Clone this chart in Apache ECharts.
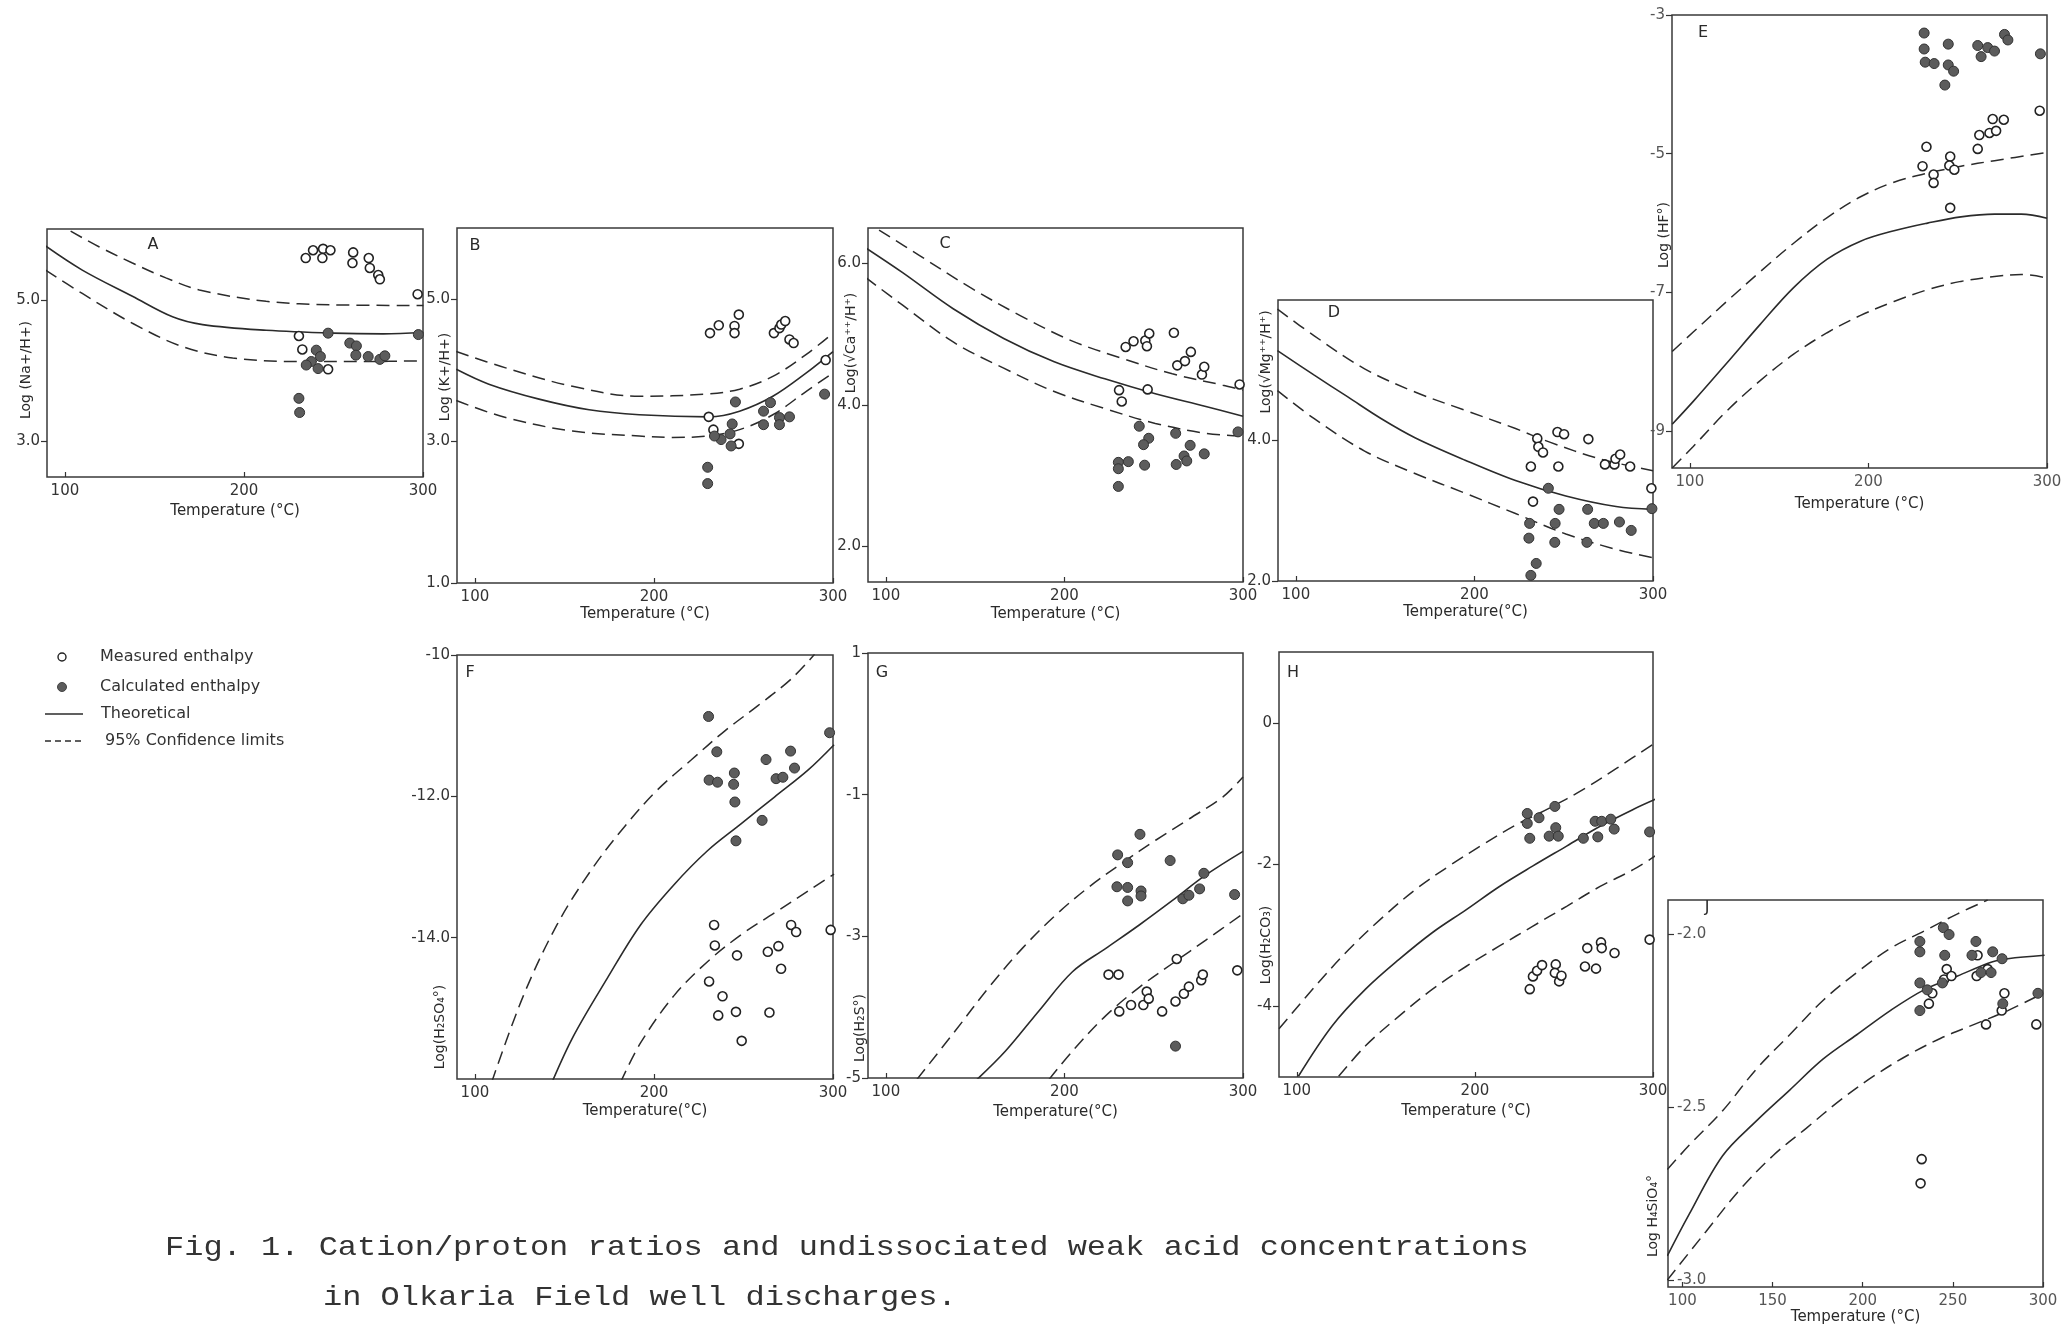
<!DOCTYPE html>
<html><head><meta charset="utf-8">
<script src="https://cdn.jsdelivr.net/npm/echarts@6/dist/echarts.min.js"></script>
<style>html,body{margin:0;padding:0;background:#fff}#c{width:2067px;height:1326px}</style>
</head><body><div id="c"></div>
<script>
// ---------- tick labels ----------
const tempTicks = [100, 200, 300];
const tempTicksJ = [100, 150, 200, 250, 300];
const A_yTicks = [3, 5];
const B_yTicks = [1, 3, 5];
const C_yTicks = [2, 4, 6];
const D_yTicks = [2, 4];
const E_yTicks = [-9, -7, -5, -3];
const F_yTicks = [-14, -12, -10];
const G_yTicks = [-5, -3, -1, 1];
const H_yTicks = [-4, -2, 0];
const J_yTicks = [-3, -2.5, -2];
const legendLabels = ['Measured enthalpy', 'Calculated enthalpy', 'Theoretical', '95% Confidence limits'];

// ---------- Panel A : Log(Na+/H+) ----------
const A_theoretical = [[89.2,5.76],[109.7,5.42],[137.7,5.05],[160.1,4.76],[176.9,4.65],[212.4,4.57],[249.8,4.53],[277.8,4.52],[300.2,4.54]];
const A_upper = [[103.2,5.97],[119,5.75],[137.7,5.52],[156.4,5.31],[175.1,5.14],[212.4,4.98],[249.8,4.93],[300.2,4.92]];
const A_lower = [[89.2,5.42],[109.7,5.09],[137.7,4.67],[165.7,4.34],[193.7,4.18],[231.1,4.13],[268.4,4.13],[300.2,4.14]];
const A_measured = [[234.5,5.59],[238.6,5.70],[244.2,5.72],[248.3,5.70],[243.8,5.59],[261.0,5.67],[260.6,5.52],[269.7,5.59],[270.3,5.45],[275.0,5.35],[275.9,5.29],[297.0,5.08],[230.7,4.49],[232.6,4.30],[247.0,4.02]];
const A_calculated = [[247.0,4.53],[259.1,4.39],[262.8,4.35],[262.5,4.22],[269.4,4.20],[275.9,4.16],[278.7,4.21],[240.4,4.29],[242.7,4.20],[237.6,4.13],[234.8,4.08],[241.4,4.03],[230.7,3.61],[231.1,3.41],[297.4,4.51]];

// ---------- Panel B : Log(K+/H+) ----------
const B_theoretical = [[89.6,4.01],[107.8,3.80],[135.8,3.59],[163.8,3.44],[191.8,3.37],[231.0,3.34],[247.8,3.42],[266.4,3.63],[285.1,3.96],[300,4.26]];
const B_upper = [[89.6,4.26],[117.2,4.03],[154.5,3.77],[191.8,3.63],[229.1,3.66],[247.8,3.73],[266.4,3.91],[285.1,4.22],[300,4.52]];
const B_lower = [[89.6,3.57],[117.2,3.33],[154.5,3.14],[191.8,3.07],[210.4,3.05],[229.1,3.07],[247.8,3.16],[266.4,3.37],[285.1,3.70],[300,3.96]];
const B_measured = [[231.3,4.52],[236.2,4.63],[245.0,4.62],[245.0,4.52],[247.4,4.78],[267.0,4.52],[270.1,4.59],[271.1,4.64],[273.3,4.69],[275.7,4.43],[278.0,4.38],[230.6,3.34],[233.2,3.16],[247.4,2.96],[295.9,4.14]];
const B_calculated = [[245.5,3.55],[243.7,3.24],[242.5,3.10],[243.1,2.93],[237.5,3.02],[233.8,3.07],[230.0,2.63],[230.0,2.40],[261.2,3.42],[265.1,3.54],[261.2,3.23],[270.1,3.33],[270.1,3.23],[275.7,3.34],[295.3,3.66]];

// ---------- Panel C : Log(sqrt(Ca++)/H+) ----------
const C_theoretical = [[88.7,6.22],[109.4,5.87],[137.7,5.36],[166.0,4.94],[194.3,4.61],[222.6,4.37],[250.9,4.16],[279.2,3.98],[300,3.84]];
const C_upper = [[96.2,6.47],[118.9,6.11],[147.2,5.66],[175.5,5.26],[203.8,4.91],[232.1,4.66],[260.4,4.44],[288.7,4.28],[300,4.21]];
const C_lower = [[88.7,5.80],[109.4,5.41],[137.7,4.89],[166.0,4.52],[194.3,4.19],[222.6,3.95],[250.9,3.74],[279.2,3.60],[300,3.56]];
const C_measured = [[234.3,4.82],[238.7,4.90],[245.3,4.91],[247.5,5.01],[246.2,4.83],[261.3,5.02],[263.2,4.56],[267.5,4.62],[270.8,4.75],[277.0,4.43],[278.3,4.54],[298.1,4.29],[230.6,4.21],[232.1,4.05],[246.6,4.22]];
const C_calculated = [[241.9,3.70],[247.2,3.53],[244.3,3.44],[244.9,3.15],[235.8,3.20],[230.2,3.19],[230.2,3.10],[230.2,2.85],[262.3,3.60],[262.6,3.16],[270.4,3.43],[267.0,3.28],[268.5,3.21],[278.3,3.31],[297.2,3.62]];

// ---------- Panel D : Log(sqrt(Mg++)/H+) ----------
const D_theoretical = [[89.7,5.28],[110.3,4.93],[129.1,4.62],[147.9,4.31],[166.7,4.04],[194.8,3.72],[223.0,3.43],[251.2,3.21],[279.3,3.06],[300,3.02]];
const D_upper = [[89.7,5.87],[110.3,5.49],[138.5,5.02],[166.7,4.69],[194.8,4.43],[223.0,4.17],[241.8,3.98],[270.0,3.74],[300,3.57]];
const D_lower = [[89.7,4.71],[110.3,4.31],[138.5,3.85],[166.7,3.53],[194.8,3.25],[223.0,2.96],[251.2,2.67],[279.3,2.45],[300,2.33]];
const D_measured = [[235.2,4.03],[235.8,3.91],[238.4,3.83],[231.6,3.63],[246.5,4.12],[250.2,4.09],[247.0,3.63],[263.8,4.02],[273.1,3.66],[278.4,3.66],[279.0,3.74],[281.6,3.80],[287.2,3.63],[299.1,3.32],[232.8,3.13]];
const D_calculated = [[241.4,3.32],[247.4,3.02],[245.2,2.82],[245.0,2.55],[230.9,2.82],[230.5,2.61],[234.6,2.25],[231.6,2.08],[263.4,3.02],[267.1,2.82],[272.2,2.82],[263.0,2.55],[281.2,2.84],[287.8,2.72],[299.4,3.03]];

// ---------- Panel E : Log(HF°) ----------
const E_theoretical = [[90.1,-8.90],[101.9,-8.57],[120.6,-8.02],[139.4,-7.46],[158.1,-6.93],[176.9,-6.52],[195.6,-6.26],[214.3,-6.11],[233.1,-6.00],[251.8,-5.91],[270.6,-5.87],[285.6,-5.87],[300,-5.93]];
const E_upper = [[90.1,-7.85],[101.9,-7.57],[120.6,-7.13],[139.4,-6.70],[158.1,-6.29],[176.9,-5.92],[195.6,-5.62],[214.3,-5.41],[233.1,-5.28],[251.8,-5.18],[270.6,-5.10],[300,-4.98]];
const E_lower = [[90.1,-9.53],[101.9,-9.22],[120.6,-8.71],[139.4,-8.27],[158.1,-7.89],[176.9,-7.58],[195.6,-7.33],[214.3,-7.13],[233.1,-6.96],[251.8,-6.84],[270.6,-6.77],[285.6,-6.74],[300,-6.79]];
const E_measured = [[232.5,-4.90],[230.3,-5.18],[236.5,-5.30],[236.5,-5.42],[245.8,-5.04],[245.3,-5.17],[248.1,-5.23],[245.8,-5.78],[261.2,-4.93],[262.1,-4.73],[267.8,-4.70],[271.5,-4.67],[269.6,-4.50],[275.8,-4.51],[295.9,-4.38]];
const E_calculated = [[231.2,-3.26],[231.2,-3.49],[231.8,-3.68],[236.8,-3.70],[244.7,-3.42],[244.7,-3.72],[247.7,-3.81],[242.8,-4.01],[261.2,-3.44],[263.1,-3.60],[266.8,-3.47],[270.6,-3.52],[276.2,-3.28],[278.1,-3.36],[296.3,-3.56]];

// ---------- Panel F : Log(H2SO4°) ----------
const F_theoretical = [[143.0,-16.05],[155.1,-15.39],[173.8,-14.58],[192.5,-13.82],[211.2,-13.25],[229.9,-12.77],[248.6,-12.39],[267.3,-12.01],[286.0,-11.63],[300.6,-11.27]];
const F_upper = [[109.3,-16.05],[127.1,-14.82],[145.8,-13.82],[164.5,-13.06],[183.2,-12.44],[201.9,-11.91],[220.6,-11.49],[239.3,-11.08],[257.9,-10.72],[276.6,-10.34],[289.7,-9.99]];
const F_lower = [[181.3,-16.05],[192.5,-15.49],[211.2,-14.82],[229.9,-14.34],[248.6,-13.96],[267.3,-13.65],[286.0,-13.34],[300.6,-13.10]];
const F_measured = [[233.6,-13.82],[234.0,-14.11],[230.8,-14.62],[238.3,-14.83],[235.9,-15.10],[245.8,-15.05],[249.0,-15.46],[246.4,-14.25],[263.6,-14.20],[269.5,-14.12],[271.0,-14.44],[264.5,-15.06],[276.6,-13.82],[279.4,-13.92],[298.7,-13.89]];
const F_calculated = [[230.5,-10.87],[235.1,-11.37],[230.8,-11.77],[235.5,-11.80],[244.9,-11.67],[244.5,-11.83],[245.2,-12.08],[245.8,-12.63],[260.4,-12.34],[262.6,-11.48],[268.2,-11.75],[272.0,-11.73],[276.3,-11.36],[278.5,-11.60],[298.1,-11.10]];

// ---------- Panel G : Log(H2S°) ----------
const G_theoretical = [[151.1,-5.02],[167.0,-4.62],[185.8,-4.05],[204.5,-3.50],[223.2,-3.17],[241.9,-2.84],[260.7,-2.49],[279.4,-2.13],[300,-1.80]];
const G_upper = [[117.4,-5.02],[139.0,-4.33],[157.7,-3.72],[176.4,-3.17],[195.1,-2.70],[213.9,-2.30],[232.6,-1.96],[251.3,-1.64],[270.0,-1.34],[288.8,-1.03],[300,-0.75]];
const G_lower = [[191.4,-5.02],[204.5,-4.62],[223.2,-4.12],[241.9,-3.72],[260.7,-3.38],[279.4,-3.05],[300,-2.68]];
const G_measured = [[224.7,-3.54],[230.3,-3.54],[230.7,-4.06],[237.3,-3.97],[244.2,-3.97],[246.1,-3.78],[247.2,-3.88],[254.7,-4.06],[262.2,-3.92],[266.9,-3.81],[269.7,-3.71],[276.6,-3.62],[277.5,-3.54],[262.9,-3.32],[296.8,-3.48]];
const G_calculated = [[242.3,-1.56],[229.8,-1.85],[235.4,-1.96],[229.4,-2.30],[235.4,-2.31],[235.4,-2.50],[242.9,-2.36],[242.9,-2.43],[259.2,-1.93],[266.3,-2.47],[269.7,-2.42],[275.7,-2.33],[278.1,-2.11],[295.3,-2.41],[262.2,-4.55]];

// ---------- Panel H : Log(H2CO3) ----------
const H_theoretical = [[100.9,-4.99],[119.8,-4.28],[138.6,-3.76],[157.4,-3.34],[176.2,-2.96],[195.0,-2.64],[213.8,-2.31],[232.6,-2.02],[251.5,-1.74],[270.3,-1.46],[289.1,-1.22],[301.3,-1.08]];
const H_upper = [[90.0,-4.32],[110.3,-3.72],[129.2,-3.20],[148.0,-2.75],[166.8,-2.35],[185.6,-2.02],[204.4,-1.72],[223.2,-1.44],[242.1,-1.20],[260.9,-0.94],[279.7,-0.64],[301.3,-0.28]];
const H_lower = [[123.5,-4.99],[138.6,-4.56],[157.4,-4.14],[176.2,-3.76],[195.0,-3.44],[213.8,-3.15],[232.6,-2.87],[251.5,-2.59],[270.3,-2.31],[289.1,-2.07],[301.3,-1.88]];
const H_measured = [[230.8,-3.76],[232.6,-3.58],[234.9,-3.50],[237.7,-3.42],[245.4,-3.41],[244.9,-3.53],[247.3,-3.65],[248.6,-3.57],[263.1,-3.18],[261.8,-3.44],[268.0,-3.47],[270.8,-3.10],[271.2,-3.18],[278.4,-3.25],[298.1,-3.06]];
const H_calculated = [[229.4,-1.28],[229.4,-1.42],[236.0,-1.34],[230.8,-1.63],[244.9,-1.18],[241.7,-1.60],[245.4,-1.48],[246.8,-1.60],[260.9,-1.63],[267.5,-1.39],[271.2,-1.39],[276.3,-1.36],[269.0,-1.61],[278.2,-1.50],[298.1,-1.54]];

// ---------- Panel J : Log H4SiO4° ----------
const J_theoretical = [[91.6,-2.93],[103.7,-2.81],[122.3,-2.64],[140.9,-2.54],[159.5,-2.45],[178.1,-2.36],[196.7,-2.29],[215.3,-2.22],[234.0,-2.16],[252.6,-2.12],[271.2,-2.08],[280.5,-2.07],[300.9,-2.06]];
const J_upper = [[91.6,-2.68],[103.7,-2.61],[122.3,-2.51],[140.9,-2.39],[159.5,-2.29],[178.1,-2.19],[196.7,-2.11],[215.3,-2.04],[234.0,-1.99],[252.6,-1.94],[269.3,-1.90]];
const J_lower = [[91.6,-3.00],[113.0,-2.86],[131.6,-2.74],[150.2,-2.64],[168.8,-2.56],[187.4,-2.48],[206.0,-2.41],[224.7,-2.35],[243.3,-2.30],[261.9,-2.26],[280.5,-2.22],[300,-2.17]];
const J_measured = [[246.6,-2.10],[245.1,-2.13],[249.2,-2.12],[238.6,-2.17],[236.7,-2.20],[263.7,-2.06],[263.2,-2.12],[269.3,-2.10],[278.6,-2.17],[277.1,-2.22],[268.4,-2.26],[296.3,-2.26],[232.7,-2.65],[232.1,-2.72]];
const J_calculated = [[244.7,-1.98],[247.9,-2.00],[231.7,-2.02],[231.7,-2.05],[245.5,-2.06],[231.7,-2.14],[235.8,-2.16],[231.7,-2.22],[244.2,-2.14],[262.8,-2.02],[260.6,-2.06],[272.1,-2.05],[277.3,-2.07],[265.6,-2.11],[271.2,-2.11],[277.7,-2.20],[297.2,-2.17]];

// ---------- build ----------
const INK = '#2b2b2b';
const FONT = 'DejaVu Sans';
const DASH = [13, 7];
const grids = [], xAxes = [], yAxes = [], series = [], graphics = [];

function addPanel(p) {
  const i = grids.length;
  grids.push(Object.assign({show: true, borderColor: '#3a3a3a', borderWidth: 1.5, backgroundColor: 'transparent'}, p.rect));
  xAxes.push({
    gridIndex: i, type: 'value', min: p.xmin, max: 300,
    axisLine: {show: false, onZero: false},
    axisTick: {show: true, inside: true, length: 5, customValues: p.xticks, lineStyle: {color: '#333', width: 1.2}},
    axisLabel: {customValues: p.xticks, color: p.labelColor || '#333', fontSize: 15, fontFamily: FONT, margin: 7, showMinLabel: true, showMaxLabel: true},
    splitLine: {show: false},
    name: p.xname, nameLocation: 'middle', nameGap: p.nameGap || 27,
    nameTextStyle: {color: '#2a2a2a', fontSize: 15, fontFamily: FONT}
  });
  yAxes.push({
    gridIndex: i, type: 'value', min: p.ymin, max: p.ymax,
    axisLine: {show: false, onZero: false},
    axisTick: {show: true, inside: !!p.inside, length: 6, customValues: p.yticks, lineStyle: {color: '#333', width: 1.2}},
    axisLabel: {customValues: p.yticks, inside: !!p.inside, color: p.labelColor || '#333', fontSize: 15, fontFamily: FONT, margin: p.inside ? 9 : 7, formatter: p.yfmt, showMinLabel: true, showMaxLabel: true},
    splitLine: {show: false}
  });
  const ax = {xAxisIndex: i, yAxisIndex: i};
  series.push(Object.assign({name: legendLabels[2], type: 'line', data: p.theo, showSymbol: false, symbol: 'none', smooth: 0.35, silent: true, lineStyle: {color: INK, width: 1.6}, itemStyle: {color: INK}, z: 2}, ax));
  series.push(Object.assign({name: legendLabels[3], type: 'line', data: p.upper, showSymbol: false, symbol: 'none', smooth: 0.35, silent: true, lineStyle: {color: INK, width: 1.5, type: DASH}, itemStyle: {color: INK}, z: 2}, ax));
  series.push(Object.assign({name: legendLabels[3], type: 'line', data: p.lower, showSymbol: false, symbol: 'none', smooth: 0.35, silent: true, lineStyle: {color: INK, width: 1.5, type: DASH}, itemStyle: {color: INK}, z: 2}, ax));
  series.push(Object.assign({name: legendLabels[0], type: 'scatter', data: p.meas, symbol: 'circle', symbolSize: 9, itemStyle: {color: '#ffffff', borderColor: '#222', borderWidth: 1.6, opacity: 1}, z: 4}, ax));
  series.push(Object.assign({name: legendLabels[1], type: 'scatter', data: p.calc, symbol: 'circle', symbolSize: 10, itemStyle: {color: '#5c5c5c', borderColor: '#333', borderWidth: 1, opacity: 1}, z: 5}, ax));
  graphics.push({type: 'text', x: p.letter[0], y: p.letter[1], style: {text: p.id, fontSize: 16, fontFamily: FONT, fill: '#2a2a2a', align: 'center', verticalAlign: 'middle'}});
  graphics.push({type: 'text', x: p.yname[0], y: p.yname[1], rotation: Math.PI / 2, style: {text: p.yname[2], fontSize: 14, fontFamily: FONT, fill: '#2a2a2a', align: 'center', verticalAlign: 'middle'}});
}

const f1 = v => v.toFixed(1);
const f0 = v => String(Math.round(v));

addPanel({id: 'A', rect: {left: 47, top: 229, width: 376, height: 248}, xmin: 90, xticks: tempTicks, ymin: 2.5, ymax: 6.0, yticks: A_yTicks, yfmt: f1,
  theo: A_theoretical, upper: A_upper, lower: A_lower, meas: A_measured, calc: A_calculated,
  xname: 'Temperature (°C)', nameGap: 27, letter: [153, 245], yname: [26, 370, 'Log (Na+/H+)']});
addPanel({id: 'B', rect: {left: 457, top: 228, width: 376, height: 355}, xmin: 90, xticks: tempTicks, ymin: 1.0, ymax: 6.0, yticks: B_yTicks, yfmt: f1,
  theo: B_theoretical, upper: B_upper, lower: B_lower, meas: B_measured, calc: B_calculated,
  xname: 'Temperature (°C)', nameGap: 24, letter: [475, 246], yname: [445, 377, 'Log (K+/H+)']});
addPanel({id: 'C', rect: {left: 868, top: 228, width: 375, height: 354}, xmin: 90, xticks: tempTicks, ymin: 1.5, ymax: 6.5, yticks: C_yTicks, yfmt: f1,
  theo: C_theoretical, upper: C_upper, lower: C_lower, meas: C_measured, calc: C_calculated,
  xname: 'Temperature (°C)', nameGap: 25, letter: [945, 244], yname: [851, 343, 'Log(√Ca⁺⁺/H⁺)']});
addPanel({id: 'D', rect: {left: 1278, top: 300, width: 375, height: 281}, xmin: 90, xticks: tempTicks, ymin: 2.0, ymax: 6.0, yticks: D_yTicks, yfmt: f1,
  theo: D_theoretical, upper: D_upper, lower: D_lower, meas: D_measured, calc: D_calculated,
  xname: 'Temperature(°C)', nameGap: 24, letter: [1334, 313], yname: [1266, 362, 'Log(√Mg⁺⁺/H⁺)']});
addPanel({id: 'E', rect: {left: 1672, top: 15, width: 375, height: 453}, xmin: 90, xticks: tempTicks, ymin: -9.53, ymax: -3, yticks: E_yTicks, yfmt: f0,
  theo: E_theoretical, upper: E_upper, lower: E_lower, meas: E_measured, calc: E_calculated, labelColor: '#555',
  xname: 'Temperature (°C)', nameGap: 29, letter: [1703, 33], yname: [1664, 235, 'Log (HF°)']});
addPanel({id: 'F', rect: {left: 457, top: 655, width: 376, height: 424}, xmin: 90, xticks: tempTicks, ymin: -16, ymax: -10, yticks: F_yTicks, yfmt: v => (v === -10 ? '-10' : v.toFixed(1)),
  theo: F_theoretical, upper: F_upper, lower: F_lower, meas: F_measured, calc: F_calculated,
  xname: 'Temperature(°C)', nameGap: 25, letter: [470, 673], yname: [440, 1027, 'Log(H₂SO₄°)']});
addPanel({id: 'G', rect: {left: 868, top: 653, width: 375, height: 425}, xmin: 90, xticks: tempTicks, ymin: -5, ymax: 1, yticks: G_yTicks, yfmt: f0,
  theo: G_theoretical, upper: G_upper, lower: G_lower, meas: G_measured, calc: G_calculated,
  xname: 'Temperature(°C)', nameGap: 27, letter: [882, 673], yname: [860, 1028, 'Log(H₂S°)']});
addPanel({id: 'H', rect: {left: 1279, top: 652, width: 374, height: 425}, xmin: 90, xticks: tempTicks, ymin: -5, ymax: 1, yticks: H_yTicks, yfmt: f0,
  theo: H_theoretical, upper: H_upper, lower: H_lower, meas: H_measured, calc: H_calculated,
  xname: 'Temperature (°C)', nameGap: 27, letter: [1293, 673], yname: [1266, 945, 'Log(H₂CO₃)']});
addPanel({id: 'J', rect: {left: 1668, top: 900, width: 375, height: 387}, xmin: 92, xticks: tempTicksJ, ymin: -3.02, ymax: -1.9, yticks: J_yTicks, yfmt: f1, inside: true,
  theo: J_theoretical, upper: J_upper, lower: J_lower, meas: J_measured, calc: J_calculated, labelColor: '#555',
  xname: 'Temperature (°C)', nameGap: 20, letter: [1707, 908], yname: [1653, 1216, 'Log H₄SiO₄°']});

// legend key (drawn)
const LG = {fontSize: 16, fontFamily: FONT, fill: '#333', align: 'left', verticalAlign: 'middle'};
graphics.push({type: 'circle', shape: {cx: 62, cy: 657, r: 4}, style: {fill: '#fff', stroke: '#222', lineWidth: 1.4}});
graphics.push({type: 'text', x: 100, y: 657, style: Object.assign({text: legendLabels[0]}, LG)});
graphics.push({type: 'circle', shape: {cx: 62, cy: 687, r: 4.5}, style: {fill: '#5c5c5c', stroke: '#444', lineWidth: 1}});
graphics.push({type: 'text', x: 100, y: 687, style: Object.assign({text: legendLabels[1]}, LG)});
graphics.push({type: 'line', shape: {x1: 45, y1: 714, x2: 83, y2: 714}, style: {stroke: INK, lineWidth: 1.5}});
graphics.push({type: 'text', x: 101, y: 714, style: Object.assign({text: legendLabels[2]}, LG)});
graphics.push({type: 'line', shape: {x1: 45, y1: 741, x2: 84, y2: 741}, style: {stroke: INK, lineWidth: 1.5, lineDash: [6, 4]}});
graphics.push({type: 'text', x: 105, y: 741, style: Object.assign({text: legendLabels[3]}, LG)});

// caption
graphics.push({type: 'text', x: 165, y: 1248, scaleX: 1.143, style: {text: 'Fig. 1. Cation/proton ratios and undissociated weak acid concentrations', fontSize: 28, fontFamily: 'Liberation Mono', fill: '#333', align: 'left', verticalAlign: 'middle'}});
graphics.push({type: 'text', x: 323, y: 1298, scaleX: 1.143, style: {text: 'in Olkaria Field well discharges.', fontSize: 28, fontFamily: 'Liberation Mono', fill: '#333', align: 'left', verticalAlign: 'middle'}});

const chart = echarts.init(document.getElementById('c'), null, {renderer: 'canvas'});
chart.setOption({
  backgroundColor: '#ffffff',
  animation: false,
  grid: grids, xAxis: xAxes, yAxis: yAxes, series: series,
  graphic: graphics
});
</script></body></html>
